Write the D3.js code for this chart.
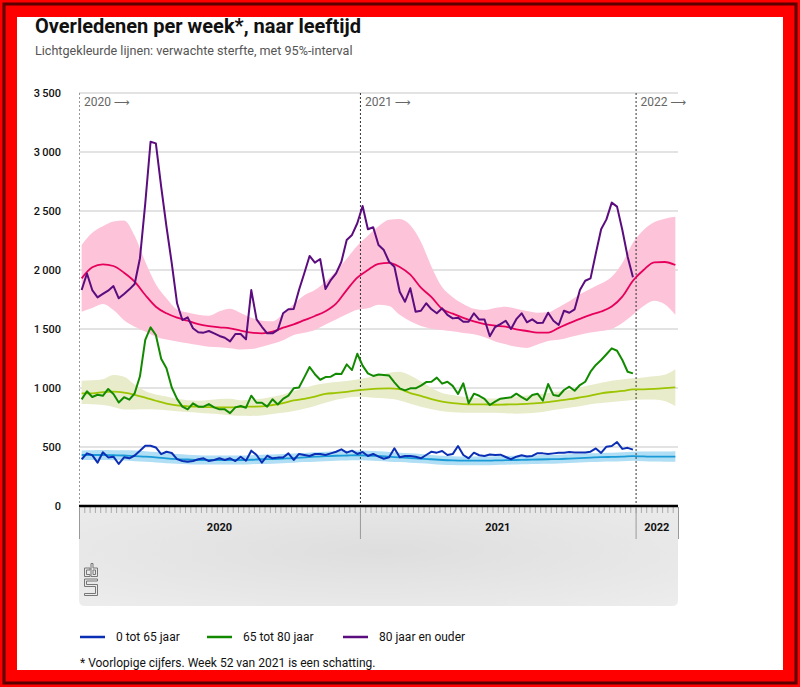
<!DOCTYPE html>
<html><head><meta charset="utf-8">
<script src="https://cdn.jsdelivr.net/npm/d3@7"></script>
<style>body{margin:0;background:#fff}svg{display:block}</style>
</head><body>
<svg id="c" width="800" height="687"></svg>
<script>
// ---------- DATA ----------
const title = "Overledenen per week*, naar leeftijd";
const subtitle = "Lichtgekleurde lijnen: verwachte sterfte, met 95%-interval";
const footnote = "* Voorlopige cijfers. Week 52 van 2021 is een schatting.";
const years = ["2020", "2021", "2022"];
const weeksPerYear = [53, 52, 8];
const yTicks = [0, 500, 1000, 1500, 2000, 2500, 3000, 3500];
const seriesNames = ["0 tot 65 jaar", "65 tot 80 jaar", "80 jaar en ouder"];

// observed deaths, weekly from 2020 week 1 to 2021 week 52
const obs0_65 = [396,446,431,367,455,412,418,356,413,404,
  428,468,511,511,496,440,460,449,397,381,
  375,381,396,404,381,390,404,390,404,381,
  418,384,469,432,367,426,404,410,411,446,
  390,441,432,424,441,441,432,446,460,480,
  452,469,441,458,424,441,418,400,413,489,
  413,424,424,418,404,432,460,452,466,432,
  440,508,432,404,452,430,424,436,432,435,
  415,396,418,430,420,424,448,446,441,446,
  452,452,457,454,454,454,460,488,450,503,
  508,542,484,493,478];
const obs65_80 = [904,972,924,943,934,992,949,877,922,901,
  955,1099,1407,1514,1449,1248,1167,1004,908,842,
  819,870,842,842,864,836,819,819,787,836,
  847,833,935,875,875,842,904,860,908,935,
  997,1005,1090,1178,1117,1070,1093,1096,1121,1118,
  1200,1152,1290,1190,1124,1102,1115,1110,1105,1048,
  997,980,997,997,1020,1050,1053,1088,1037,1053,
  1018,949,1040,870,952,934,908,856,884,909,
  915,921,952,922,898,940,952,892,1034,940,
  932,983,1011,977,1025,1053,1138,1195,1237,1286,
  1336,1316,1237,1138,1124];
const obs80 = [1830,1970,1830,1768,1797,1825,1864,1760,1797,1836,
  1881,2100,2565,3087,3073,2706,2367,2057,1718,1576,
  1599,1506,1472,1469,1483,1463,1441,1426,1395,1458,
  1458,1412,1830,1582,1519,1463,1463,1492,1633,1667,
  1669,1830,1972,2119,2062,2093,1839,1915,1972,2070,
  2254,2297,2396,2542,2345,2362,2212,2169,2070,2028,
  1816,1731,1845,1647,1655,1718,1667,1633,1675,1619,
  1590,1596,1562,1562,1633,1580,1580,1438,1517,1541,
  1570,1500,1583,1633,1557,1582,1550,1553,1638,1570,
  1534,1655,1638,1667,1830,1909,1929,2141,2345,2429,
  2571,2537,2339,2113,1938];

// expected deaths with 95% interval, read every second week (week index from 2020 w1)
const expWeeks = [0,2,4,6,8,10,12,14,16,18,20,22,24,26,28,30,32,34,36,38,40,42,44,46,48,50,52,54,56,58,
  60,62,64,66,68,70,72,74,76,78,80,82,84,86,88,90,92,94,96,98,100,102,104,106,108,110,112];
const exp0_65 = [432,432,432,430,428,422,418,412,404,398,394,390,390,390,390,390,392,396,398,402,
  406,412,418,422,426,428,430,428,424,418,412,406,402,396,390,386,384,384,384,386,
  388,390,392,394,396,398,402,406,410,414,416,418,422,420,418,418,418];
const exp0_65Hi = [470,472,474,472,472,470,465,458,448,440,435,430,428,428,428,428,430,434,436,440,
  444,450,456,460,464,468,470,468,464,458,452,446,440,432,426,422,420,420,420,422,
  424,426,428,430,432,434,438,442,446,450,452,455,460,462,462,462,465];
const exp0_65Lo = [390,390,390,388,386,380,374,368,362,358,354,352,352,352,352,352,354,356,358,362,
  366,372,376,380,384,386,388,386,382,376,372,366,362,356,350,348,346,346,346,348,
  350,352,354,356,358,360,364,368,372,376,378,380,384,380,378,376,374];
const exp65_80 = [955,955,965,969,960,942,918,892,868,852,845,842,838,836,836,840,842,844,856,872,
  895,908,927,950,958,968,980,988,994,997,990,957,934,905,885,872,864,862,862,858,
  860,862,866,871,881,893,905,920,936,955,966,975,988,989,993,999,1006];
const exp65_80Hi = [1062,1066,1075,1110,1095,1030,975,945,928,908,896,893,898,906,908,895,902,908,925,945,
  975,1000,1025,1040,1050,1060,1073,1088,1105,1130,1138,1105,1055,1000,958,940,926,918,912,912,
  920,928,936,945,958,970,985,1005,1025,1045,1062,1072,1082,1090,1100,1112,1158];
const exp65_80Lo = [864,863,855,840,818,818,819,817,812,804,796,790,783,777,770,764,763,768,780,790,
  805,825,848,874,900,918,925,922,915,908,895,867,842,820,803,795,791,791,791,791,
  787,782,786,792,806,820,832,846,862,872,882,890,898,902,903,890,847];
const exp80 = [1929,2023,2048,2034,1977,1901,1788,1689,1633,1596,1570,1542,1525,1514,1506,1486,1469,1463,1477,1511,
  1540,1575,1610,1650,1715,1830,1935,2000,2052,2060,2025,1960,1850,1770,1670,1630,1595,1565,1542,1528,
  1520,1497,1483,1469,1469,1510,1550,1586,1620,1648,1690,1774,1909,2000,2065,2068,2042];
const exp80Hi = [2212,2315,2370,2410,2420,2290,2070,1880,1760,1665,1640,1620,1612,1650,1672,1635,1595,1570,1565,1630,
  1710,1785,1830,1900,1990,2095,2205,2290,2370,2425,2432,2380,2240,2028,1855,1770,1712,1672,1662,1678,
  1688,1672,1652,1638,1642,1685,1735,1795,1842,1885,1943,2060,2230,2340,2405,2435,2452];
const exp80Lo = [1647,1678,1712,1660,1575,1520,1478,1435,1410,1395,1380,1364,1350,1345,1337,1326,1330,1350,1375,1405,
  1450,1468,1492,1538,1580,1625,1663,1675,1705,1695,1620,1565,1525,1503,1492,1480,1467,1455,1430,1395,
  1370,1350,1340,1368,1398,1408,1430,1452,1470,1482,1500,1550,1620,1695,1740,1710,1620];

// ---------- STYLE ----------
const FONT = "Roboto, 'Noto Sans', sans-serif";
const colors = {
  obs: ["#0a2fb4", "#128a00", "#5b0c7e"],
  exp: ["#1a9bd7", "#9cc400", "#e6005c"],
  band: ["#b0def4", "#e8ecca", "#fcc3d9"]
};

const svg = d3.select("#c");

// frame
svg.append("rect").attr("x",0).attr("y",0).attr("width",800).attr("height",687).attr("fill","#ff0000");
svg.append("rect").attr("x",4).attr("y",4).attr("width",792).attr("height",679)
  .attr("fill","none").attr("stroke","#5a0000").attr("stroke-width",3);
svg.append("rect").attr("x",17).attr("y",17).attr("width",766).attr("height",653).attr("fill","#ffffff");

// titles
svg.append("text").attr("x",35).attr("y",33).text(title)
  .attr("font-family",FONT).attr("font-weight",700).attr("font-size",20).attr("fill","#111");
svg.append("text").attr("x",35).attr("y",55).text(subtitle)
  .attr("font-family",FONT).attr("font-size",12.6).attr("fill","#555");

// scales
const totalWeeks = d3.sum(weeksPerYear);
const x = d3.scaleLinear().domain([0, totalWeeks]).range([79, 678]);
const y = d3.scaleLinear().domain([0, 3500]).range([506, 93]);
const xc = i => x(i + 0.5);

// axis band below
const g = svg.append("g");
const defs = svg.append("defs");
const grad = defs.append("radialGradient").attr("id","bandGrad").attr("cx","50%").attr("cy","45%").attr("r","70%");
grad.append("stop").attr("offset","0%").attr("stop-color","#dedede");
grad.append("stop").attr("offset","100%").attr("stop-color","#ececec");
const bx0 = x(0), bx1 = x(totalWeeks), by0 = 506, by1 = 606, r = 6;
g.append("path")
  .attr("d", `M${bx0},${by0} H${bx1} V${by1-r} Q${bx1},${by1} ${bx1-r},${by1} H${bx0+r} Q${bx0},${by1} ${bx0},${by1-r} Z`)
  .attr("fill","url(#bandGrad)");

// gridlines
g.append("g").selectAll("line").data(yTicks.filter(d => d > 0)).join("line")
  .attr("x1", x(0)).attr("x2", x(totalWeeks)).attr("y1", d => y(d)).attr("y2", d => y(d))
  .attr("stroke","#e3e3e3").attr("stroke-width",2);

// y axis labels
const yAxis = d3.axisLeft(y).tickValues(yTicks).tickSize(0)
  .tickFormat(d => d3.format(",")(d).replace(",", "\u2009"));
const ya = g.append("g").attr("transform", "translate(64,0)").call(yAxis);
ya.select(".domain").remove();
ya.selectAll("text").attr("font-family",FONT).attr("font-size",11).attr("font-weight",500).attr("fill","#111").attr("dx",0);

// bands & expected lines
const bandData = [
  [exp0_65Lo, exp0_65Hi], [exp65_80Lo, exp65_80Hi], [exp80Lo, exp80Hi]
];
const expData = [exp0_65, exp65_80, exp80];
const area = d3.area().x(d => xc(d[0])).y0(d => y(d[1])).y1(d => y(d[2])).curve(d3.curveMonotoneX);
const lineE = d3.line().x(d => xc(d[0])).y(d => y(d[1])).curve(d3.curveMonotoneX);
[2,1,0].forEach(k => {
  const pts = expWeeks.map((w, i) => [w, bandData[k][0][i], bandData[k][1][i]]);
  g.append("path").attr("d", area(pts)).attr("fill", colors.band[k]);
});

// year separators (dashed)
const yearStarts = weeksPerYear.map((w, i) => d3.sum(weeksPerYear.slice(0, i)));
g.append("g").selectAll("line").data(yearStarts).join("line")
  .attr("x1", d => x(d) + 0.5).attr("x2", d => x(d) + 0.5).attr("y1", 93).attr("y2", 506)
  .attr("stroke", (d, i) => i === 0 ? "#999" : "#333").attr("stroke-width",1).attr("stroke-dasharray","2,2");
const yl = g.append("g").selectAll("text").data(years).join("text")
  .attr("x", (d, i) => x(yearStarts[i]) + 5).attr("y", 106)
  .attr("font-family",FONT).attr("font-size",12).attr("fill","#666");
yl.append("tspan").text(d => d + " ");
yl.append("tspan").text("\u27F6").attr("font-family","'DejaVu Sans', sans-serif").attr("font-size",11);

[2,1,0].forEach(k => {
  const pts = expWeeks.map((w, i) => [w, expData[k][i]]);
  g.append("path").attr("d", lineE(pts)).attr("fill","none")
    .attr("stroke", colors.exp[k]).attr("stroke-width",1.8);
});

// observed lines
const obsData = [obs0_65, obs65_80, obs80];
const lineO = d3.line().x((d, i) => xc(i)).y(d => y(d));
[2,1,0].forEach(k => {
  g.append("path").attr("d", lineO(obsData[k])).attr("fill","none")
    .attr("stroke", colors.obs[k]).attr("stroke-width",2).attr("stroke-linejoin","round");
});

// x axis with weekly ticks
const xAxis = d3.axisBottom(x).tickValues(d3.range(0, totalWeeks + 1)).tickSize(6).tickFormat("");
const xa = g.append("g").attr("transform","translate(0,507)").call(xAxis);
xa.select(".domain").remove();
xa.selectAll(".tick line").attr("stroke","#aaa").attr("stroke-width",1);
g.append("line").attr("x1", x(0)).attr("x2", x(totalWeeks)).attr("y1",506).attr("y2",506)
  .attr("stroke","#000").attr("stroke-width",2.5);
// year boundaries in band
g.append("g").selectAll("line").data(yearStarts.concat([totalWeeks])).join("line")
  .attr("x1", d => x(d) + 0.5).attr("x2", d => x(d) + 0.5).attr("y1",507).attr("y2",539)
  .attr("stroke","#999").attr("stroke-width",1);
g.append("g").selectAll("text").data(years).join("text")
  .attr("x", (d, i) => (x(yearStarts[i]) + x(yearStarts[i] + weeksPerYear[i])) / 2).attr("y", 531)
  .attr("text-anchor","middle").text(d => d)
  .attr("font-family",FONT).attr("font-size",11).attr("font-weight",700).attr("fill","#111");

// CBS logo (outline)
const logo = g.append("g").attr("transform","translate(84,563)").attr("fill","none")
  .attr("stroke","#777").attr("stroke-width",1);
logo.append("path").attr("d","M6,5 H0.5 V13.5 H6 V11.5 H2.5 V7 H6 Z");
logo.append("path").attr("d","M7,0.5 H9 V5 H13.5 V13.5 H7 Z M9,7 V11.5 H11.5 V7 Z");
logo.append("path").attr("d","M0.5,16 H13.5 V18 H2.5 V21.5 H13.5 V32.5 H0.5 V30.5 H11.5 V23.5 H0.5 Z");

// legend
const lg = svg.append("g");
const legX = [80, 207, 343];
seriesNames.forEach((nm, i) => {
  lg.append("line").attr("x1", legX[i]).attr("x2", legX[i] + 25).attr("y1",637).attr("y2",637)
    .attr("stroke", colors.obs[i]).attr("stroke-width",2.5);
  lg.append("text").attr("x", legX[i] + 36).attr("y", 641).text(nm)
    .attr("font-family",FONT).attr("font-size",12).attr("fill","#111");
});
svg.append("text").attr("x",80).attr("y",667).text(footnote)
  .attr("font-family",FONT).attr("font-size",12).attr("fill","#111");
</script>
</body></html>
